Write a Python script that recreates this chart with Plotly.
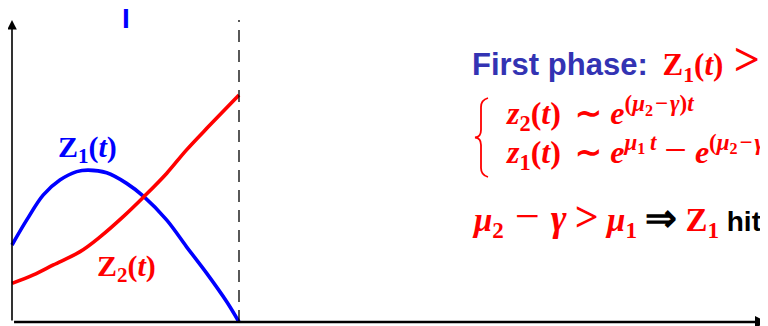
import plotly.graph_objects as go

# ---- data ----
t_z1 = [0.0, 0.065, 0.138, 0.211, 0.285, 0.336, 0.417, 0.505, 0.581, 0.681, 0.769, 0.858, 0.946, 1.0]
z1 = [0.255, 0.338, 0.421, 0.470, 0.498, 0.503, 0.494, 0.459, 0.415, 0.338, 0.249, 0.161, 0.067, 0.0]
t_z2 = [0.0, 0.094, 0.182, 0.300, 0.388, 0.490, 0.581, 0.681, 0.769, 0.872, 1.0]
z2 = [0.128, 0.156, 0.189, 0.233, 0.282, 0.349, 0.415, 0.492, 0.570, 0.652, 0.752]
t_switch = 1.0

# page has an 8px body margin: the figure is sized so that it fills the window exactly
OFF = 8
W, H = 768 - OFF, 326 - OFF
X0, XS = 12 - OFF, 227.0   # figure pixel of t=0, pixels per unit t
Y0, YS = 322 - OFF, 302.0  # figure pixel of z=0, pixels per unit z


def px(x):
    return (x - OFF) / W


def py(y):
    return 1 - (y - OFF) / H


fig = go.Figure()
fig.add_trace(go.Scatter(x=t_z1, y=z1, mode="lines",
                         line=dict(color="#0000ff", width=3.6, shape="spline", smoothing=1.0),
                         hoverinfo="skip", showlegend=False))
fig.add_trace(go.Scatter(x=t_z2, y=z2, mode="lines",
                         line=dict(color="#ff0000", width=3.6, shape="spline", smoothing=1.0),
                         hoverinfo="skip", showlegend=False))

xmin = -X0 / XS
xmax = (W - X0) / XS
ymin = -(H - Y0) / YS
ymax = Y0 / YS

# dashed switching line
fig.add_shape(type="line", x0=t_switch, x1=t_switch, y0=0, y1=1.0, xref="x", yref="y",
              line=dict(color="black", width=1.3, dash="12px,8px"))

# brace in front of the system
bx = [(488, 98), (481, 100), (481, 107), (481, 130), (481, 137), (475, 137.5),
      (481, 138), (481, 145), (481, 168), (481, 175), (488, 177)]


def P(p):
    return f"{px(p[0]):.5f},{py(p[1]):.5f}"


path = (f"M {P(bx[0])} Q {P(bx[1])} {P(bx[2])} L {P(bx[3])} Q {P(bx[4])} {P(bx[5])} "
        f"Q {P(bx[6])} {P(bx[7])} L {P(bx[8])} Q {P(bx[9])} {P(bx[10])}")
fig.add_shape(type="path", path=path, xref="paper", yref="paper", line=dict(color="#ff0000", width=1.8))

ann = []
# axes arrows
ann.append(dict(x=0, y=(Y0 - (20 - OFF)) / YS, ax=0, ay=0, xref="x", yref="y", axref="x", ayref="y", text="",
                showarrow=True, arrowhead=2, arrowsize=1.2, arrowwidth=1.6, arrowcolor="black",
                standoff=0, startstandoff=0))
ann.append(dict(x=(W - 1 - X0) / XS, y=0, ax=xmin + 0.02, ay=0, xref="x", yref="y", axref="x", ayref="y", text="",
                showarrow=True, arrowhead=2, arrowsize=1.0, arrowwidth=2.4, arrowcolor="black",
                standoff=0, startstandoff=0))

SERIF = "Liberation Serif"
SANS = "Liberation Sans"
NB = "&nbsp;"
TH = "&#8201;"
HR = "&#8202;"


def sz(text, size):
    return f'<span style="font-size:{size}px">{text}</span>'


def minus(size):
    return f'<span style="font-size:{size}px;font-weight:normal">−</span>'


def label(x, y, text, size, color, family, xanchor="left"):
    ann.append(dict(x=px(x), y=py(y), xref="paper", yref="paper", text=text, showarrow=False,
                    xanchor=xanchor, yanchor="middle", borderpad=0,
                    font=dict(size=size, color=color, family=family)))


label(125.5, 19, "<b>I</b>", 28, "#0000ff", SANS, "center")
label(87, 149, "<b>Z<sub>1</sub>(<i>t</i>)</b>", 30, "#0000ff", SERIF, "center")
label(126, 268, "<b>Z<sub>2</sub>(<i>t</i>)</b>", 30, "#ff0000", SERIF, "center")

red_serif = "<span style=\"color:#ff0000;font-family:'Liberation Serif'\">"
label(471, 61, "<b>First phase:" + NB + TH + "</b>" + red_serif +
      "<b>Z<sub>1</sub>(<i>t</i>)" + NB + HR + sz("&gt;", 46) + NB + "Z<sub>2</sub>(<i>t</i>)</b></span>",
      31, "#3333b3", SANS)

sup_a = "<sup>" + sz("(<i>μ</i><sub>2</sub>" + HR + "−" + HR + "<i>γ</i>)<i>t</i>", 23) + "</sup>"
sup_b = "<sup>" + sz("<i>μ</i><sub>1</sub>" + TH + "<i>t</i>", 23) + "</sup>"
label(505, 114, "<b><i>z</i><sub>2</sub>(<i>t</i>)" + NB + TH + "∼" + NB + "<i>e</i>" + sup_a + "</b>",
      32, "#ff0000", SERIF)
label(505, 151, "<b><i>z</i><sub>1</sub>(<i>t</i>)" + NB + TH + "∼" + NB + "<i>e</i>" + sup_b +
      NB + minus(40) + NB + "<i>e</i>" + sup_a + "</b>", 32, "#ff0000", SERIF)

label(471, 217, "<b><i>μ</i><sub>2</sub>" + NB + HR + minus(44) + NB + HR + sz("<i>γ</i>", 38) + NB +
      sz("&gt;", 42) + NB + "<i>μ</i><sub>1</sub>" + NB +
      "<span style=\"color:black;font-size:38px\">⇒</span>" + NB + "Z<sub>1</sub></b>" +
      "<span style=\"color:black;font-family:'Liberation Sans';font-size:28px\"><b>" + NB + "hits 0</b></span>",
      33, "#ff0000", SERIF)

fig.update_layout(
    width=W, height=H, margin=dict(l=0, r=0, t=0, b=0),
    paper_bgcolor="white", plot_bgcolor="white",
    xaxis=dict(range=[xmin, xmax], visible=False, fixedrange=True),
    yaxis=dict(range=[ymin, ymax], visible=False, fixedrange=True),
    annotations=ann, showlegend=False,
)
fig.write_html("out.html")
